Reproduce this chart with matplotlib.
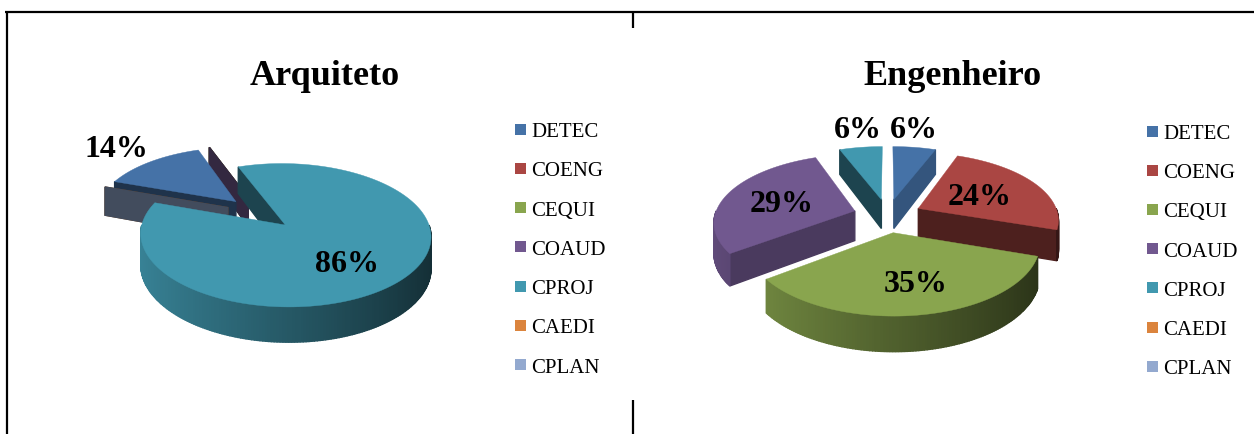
import numpy as np
import matplotlib
matplotlib.use('Agg')
import matplotlib.pyplot as plt
from matplotlib.patches import Polygon, Rectangle
from matplotlib.colors import to_rgb

plt.rcParams['font.family'] = ['Liberation Serif', 'DejaVu Serif']

# data
categories = ['DETEC', 'COENG', 'CEQUI', 'COAUD', 'CPROJ', 'CAEDI', 'CPLAN']
arq_values = [14, 0, 0, 0, 86, 0, 0]
eng_values = [6, 24, 35, 29, 6, 0, 0]
colors = ['#4572A7', '#AA4643', '#89A54E', '#71588F', '#4198AF', '#DB843D', '#93A9CF']

# 3d pie geometry (pixel units)
R = 140
SQ = 0.487
PERSP = 0.15
DEPTH = 30
EXPL = 34.5


def shade(c, k):
    return tuple(np.clip(np.array(to_rgb(c)) * k, 0, 1))


def project(cx, cy, u, v, z=0.0):
    f = 1 - PERSP * v / R
    return (cx + u * f, cy - SQ * v * f + z * f)


def pie3d(ax, cx, cy, values, start):
    total = float(sum(values))
    sides = []
    tops = []
    a = start
    for val, col in zip(values, colors):
        span = 360.0 * val / total
        a0, a1 = a, a + span
        a = a1
        mid = np.radians((a0 + a1) / 2)
        ou, ov = EXPL * np.sin(mid), EXPL * np.cos(mid)
        if span > 0:
            n = max(int(span / 2), 2)
            ph = np.radians(np.linspace(a0, a1, n + 1))
            pts = [project(cx, cy, ou, ov)]
            pts += [project(cx, cy, ou + R * np.sin(p), ov + R * np.cos(p)) for p in ph]
            tops.append((ov, pts, col))
            # outer wall, only the front half shows
            bnds = [b for b in np.arange(-630, 1440, 180) if a0 < b < a1]
            angs = np.sort(np.concatenate([np.linspace(a0, a1, int(span) + 2), bnds]))
            wall = []
            for p, q in zip(angs[:-1], angs[1:]):
                m = np.radians((p + q) / 2)
                if np.cos(m) >= 0:
                    continue
                pr, qr = np.radians(p), np.radians(q)
                pu, pv = ou + R * np.sin(pr), ov + R * np.cos(pr)
                qu, qv = ou + R * np.sin(qr), ov + R * np.cos(qr)
                poly = [project(cx, cy, pu, pv), project(cx, cy, qu, qv),
                        project(cx, cy, qu, qv, DEPTH), project(cx, cy, pu, pv, DEPTH)]
                k = 0.58 - 0.28 * np.sin(m)
                sides.append((ov + R * np.cos(m), poly, shade(col, k)))
        # cut faces
        for ang, is_start in ((a0, True), (a1, False)):
            t = np.radians(ang)
            vis = np.sin(t) < -1e-9 if is_start else np.sin(t) > 1e-9
            if not vis:
                continue
            ru, rv = ou + R * np.sin(t), ov + R * np.cos(t)
            poly = [project(cx, cy, ou, ov), project(cx, cy, ru, rv),
                    project(cx, cy, ru, rv, DEPTH), project(cx, cy, ou, ov, DEPTH)]
            psi = np.radians((ang - 90) if is_start else (ang + 90))
            k = 0.45 + 0.3 * max(0.0, np.cos(psi - np.radians(110))) ** 2
            sides.append(((ov + rv) / 2, poly, shade(col, k)))

    for _, poly, c in sorted(sides, key=lambda s: -s[0]):
        ax.add_patch(Polygon(poly, closed=True, facecolor=c, edgecolor=c, lw=1.0))
    for _, poly, c in sorted(tops, key=lambda s: -s[0]):
        ax.add_patch(Polygon(poly, closed=True, facecolor=c, edgecolor=c, lw=0.3))


def labels(ax, values, positions):
    nz = [v for v in values if v > 0]
    for v, (x, y) in zip(nz, positions):
        ax.text(x, y, f'{v}%', ha='center', va='baseline', fontsize=23, fontweight='bold')


def legend(ax, sq_x, txt_x, y0, step):
    for i, (cat, col) in enumerate(zip(categories, colors)):
        y = y0 + i * step
        ax.add_patch(Rectangle((sq_x, y - 12.5), 11, 11, facecolor=col, edgecolor='none'))
        ax.text(txt_x, y, cat, ha='left', va='baseline', fontsize=15)


fig = plt.figure(figsize=(12.54, 4.35), dpi=100)
ax = fig.add_axes([0, 0, 1, 1])
ax.set_xlim(0, 1254)
ax.set_ylim(435, 0)
ax.axis('off')

# frame
kw = dict(color='black', lw=1.6, solid_capstyle='butt', clip_on=False)
ax.plot([5, 1254], [12.7, 12.7], **kw)
ax.plot([7, 7], [12, 435], **kw)
ax.plot([633, 633], [12, 29], **kw)
ax.plot([633, 633], [401, 435], **kw)

# Arquiteto
ax.text(325, 85, 'Arquiteto', ha='center', va='baseline', fontsize=26, fontweight='bold')
pie3d(ax, 260, 214, arq_values, 289)
labels(ax, arq_values, [(116, 157), (347, 272)])
legend(ax, 515, 531, 137, 39.3)

# Engenheiro
ax.text(952, 85, 'Engenheiro', ha='center', va='baseline', fontsize=26, fontweight='bold')
pie3d(ax, 887.6, 216.5, eng_values, 0)
labels(ax, eng_values, [(914, 138), (980, 205), (916, 292), (782, 212), (858, 138)])
legend(ax, 1147, 1163, 139, 39.2)

fig.savefig('out.png', dpi=100)
